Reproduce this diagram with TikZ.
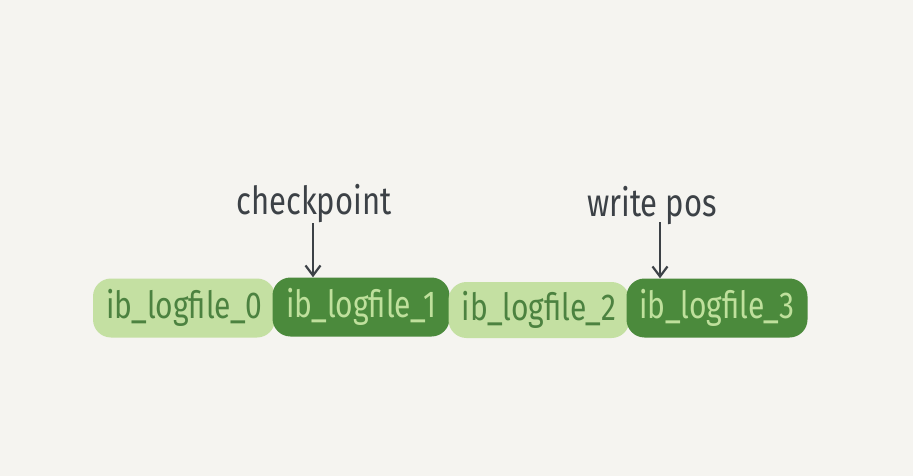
\documentclass[tikz,border=0pt]{standalone}
\usepackage{fontspec}
\setmainfont{Fira Sans}
\usetikzlibrary{arrows.meta}
\definecolor{bg}{HTML}{F5F4F0}
\definecolor{lightg}{HTML}{C4E0A2}
\definecolor{darkg}{HTML}{4B8A3C}
\definecolor{lighttext}{HTML}{BFE09C}
\definecolor{darktext}{HTML}{4C8240}
\definecolor{ink}{HTML}{3C4146}
\newcommand{\tallt}[1]{\scalebox{1}[1.25]{#1}}
\tikzset{
  filebox/.style={rounded corners=18pt, minimum height=59pt, inner sep=0pt,
    font=\fontsize{30}{30}\selectfont},
  lightbox/.style={filebox, fill=lightg, text=darktext},
  darkbox/.style={filebox, fill=darkg, text=lighttext},
  lbl/.style={text=ink, font=\fontsize{31}{31}\selectfont},
  pointer/.style={draw=ink, line width=2.2pt, -{Straight Barb[length=10pt,width=15pt,line width=2.2pt]}}
}
\begin{document}
\begin{tikzpicture}[x=1pt,y=-1pt]
\fill[bg] (0,0) rectangle (913,476);
\useasboundingbox (0,0) rectangle (913,476);
\node[lightbox, minimum width=182pt] (f0) at (184,308) {\tallt{ib\_logfile\_0}};
\node[darkbox, minimum width=177pt] (f1) at (361,307) {\tallt{ib\_logfile\_1}};
\node[lightbox, minimum width=181pt, minimum height=56pt] (f2) at (539,310) {\tallt{ib\_logfile\_2}};
\node[darkbox, minimum width=181pt] (f3) at (717,308) {\tallt{ib\_logfile\_3}};
\node[lbl] (cp) at (314,204) {\tallt{checkpoint}};
\node[lbl] (wp) at (652,206) {\tallt{write pos}};
\coordinate (cpa) at (313,223);
\coordinate (wpa) at (660,222);
\draw[pointer] (cpa) -- (cpa |- f1.north);
\draw[pointer] (wpa) -- (wpa |- f3.north);
\end{tikzpicture}
\end{document}
